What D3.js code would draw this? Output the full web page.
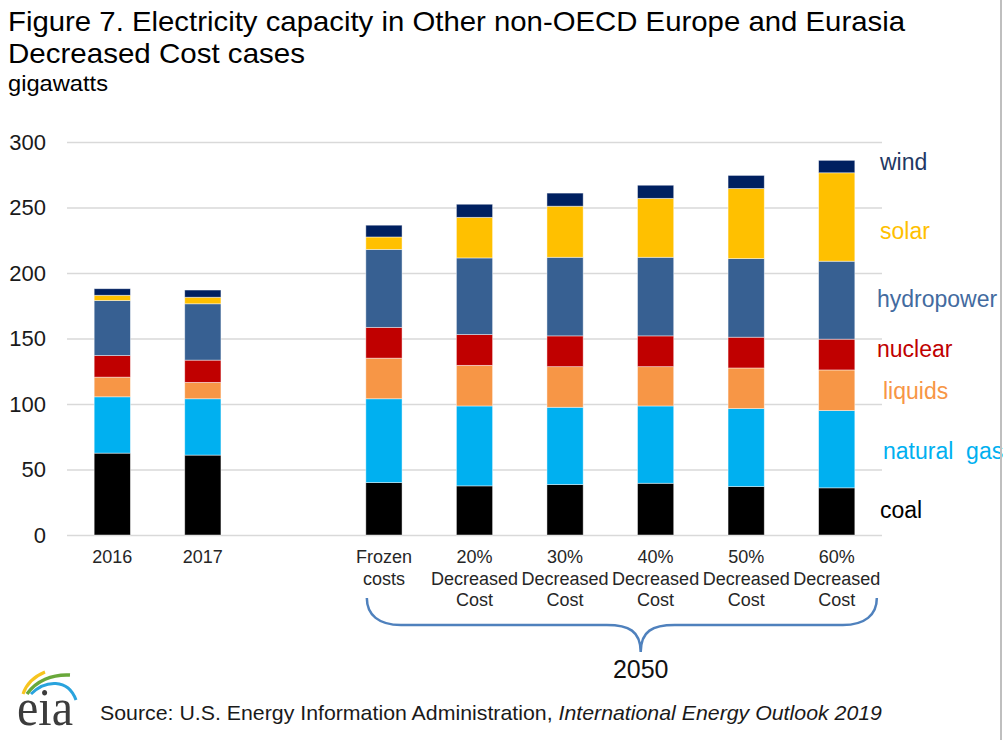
<!DOCTYPE html>
<html>
<head>
<meta charset="utf-8">
<script src="https://cdn.jsdelivr.net/npm/d3@7"></script>
<style>
  body { margin: 0; background: #fff; }
  svg { display: block; font-family: "Liberation Sans", Arial, sans-serif; }
</style>
</head>
<body>
<div id="chart"></div>
<script>
// DATA (gigawatts)
const categories = ["2016", "2017", "gap", "Frozen costs", "20% Decreased Cost",
  "30% Decreased Cost", "40% Decreased Cost", "50% Decreased Cost", "60% Decreased Cost"];
const barCategories = ["2016", "2017", "Frozen costs", "20% Decreased Cost",
  "30% Decreased Cost", "40% Decreased Cost", "50% Decreased Cost", "60% Decreased Cost"];
const tickLabels = [["2016"], ["2017"], [], ["Frozen", "costs"],
  ["20%", "Decreased", "Cost"], ["30%", "Decreased", "Cost"], ["40%", "Decreased", "Cost"],
  ["50%", "Decreased", "Cost"], ["60%", "Decreased", "Cost"]];

const coal       = [62.5, 61, 40, 37.5, 38.5, 39.5, 37, 36];
const naturalGas = [43, 43, 64, 61, 59, 59, 59.5, 59];
const liquids    = [15, 12.5, 31, 31, 31, 30, 31, 31];
const nuclear    = [16.5, 17, 23.5, 23.5, 23.5, 23.5, 23.5, 23.5];
const hydropower = [42, 43, 59.5, 58.5, 60, 60, 60, 59.5];
const solar      = [4, 5, 9.5, 31, 39, 45, 53.5, 67.5];
const wind       = [5, 5.5, 9, 10, 10, 10, 10, 9.5];

const seriesKeys   = ["coal", "natural gas", "liquids", "nuclear", "hydropower", "solar", "wind"];
const seriesColors = ["#000000", "#00b0f0", "#f79646", "#c00000", "#376092", "#ffc000", "#002060"];
// where each legend label sits, in gigawatts on the y scale
const legendAt     = [19, 64, 110, 142, 180, 232, 285];
const yTicks = [0, 50, 100, 150, 200, 250, 300];

/** CONSTANTS */
const width = 1003,
  height = 740,
  margin = { top: 142, bottom: 205, left: 67, right: 121 };

const rows = barCategories.map((c, i) => ({
  cat: c,
  "coal": coal[i],
  "natural gas": naturalGas[i],
  "liquids": liquids[i],
  "nuclear": nuclear[i],
  "hydropower": hydropower[i],
  "solar": solar[i],
  "wind": wind[i]
}));

const svg = d3.select("#chart")
  .append("svg")
  .attr("width", width)
  .attr("height", height);

svg.append("rect").attr("width", width).attr("height", height).attr("fill", "#fff");

// SCALES
const xScale = d3.scaleBand()
  .domain(categories)
  .range([margin.left, width - margin.right])
  .paddingInner(0.6)
  .paddingOuter(0.3);

const yScale = d3.scaleLinear()
  .domain([0, 300])
  .range([height - margin.bottom, margin.top]);

const color = d3.scaleOrdinal().domain(seriesKeys).range(seriesColors);

// Y AXIS with gridlines
const yAxis = d3.axisLeft(yScale)
  .tickValues(yTicks)
  .tickSize(-(width - margin.left - margin.right))
  .tickPadding(21);

svg.append("g")
  .attr("class", "axis y-axis")
  .attr("transform", `translate(${margin.left},0)`)
  .call(yAxis)
  .call(g => g.select(".domain").remove())
  .call(g => g.selectAll(".tick line").attr("stroke", "#d9d9d9").attr("stroke-width", 1.3))
  .call(g => g.selectAll(".tick text")
    .attr("fill", "#1a1a1a")
    .attr("font-size", 22)
    .attr("font-family", "Liberation Sans, Arial, sans-serif"));

// X AXIS (multi-line labels)
const xAxis = d3.axisBottom(xScale).tickSize(0).tickFormat("");
const xg = svg.append("g")
  .attr("class", "axis x-axis")
  .attr("transform", `translate(0,${height - margin.bottom})`)
  .call(xAxis)
  .call(g => g.select(".domain").remove());

xg.selectAll(".tick").each(function(d, i) {
  const t = d3.select(this).append("text")
    .attr("fill", "#262626")
    .attr("font-size", 18)
    .attr("text-anchor", "middle")
    .attr("font-family", "Liberation Sans, Arial, sans-serif");
  tickLabels[i].forEach((line, j) => {
    t.append("tspan").attr("x", 0).attr("y", 28 + j * 21.5).text(line);
  });
});

// STACKED BARS
const stacked = d3.stack().keys(seriesKeys)(rows);

svg.append("g")
  .selectAll("g")
  .data(stacked)
  .join("g")
  .attr("fill", d => color(d.key))
  .selectAll("rect")
  .data(d => d)
  .join("rect")
  .attr("x", d => xScale(d.data.cat))
  .attr("width", xScale.bandwidth())
  .attr("y", d => yScale(d[1]))
  .attr("height", d => yScale(d[0]) - yScale(d[1]))
  .attr("stroke", "#ffffff")
  .attr("stroke-opacity", 0.55)
  .attr("stroke-width", 0.8);

// LEGEND LABELS at the right
svg.append("g")
  .selectAll("text")
  .data(seriesKeys)
  .join("text")
  .attr("x", (d, i) => (i === 2 || i === 1) ? 883 : i === 4 || i === 3 ? 877 : 880)
  .attr("y", (d, i) => yScale(legendAt[i]))
  .attr("dy", "0.35em")
  .attr("font-size", 23)
  .attr("fill", (d, i) => i === 6 ? "#1f3864" : i === 4 ? "#436b9f" : seriesColors[i])
  .attr("xml:space", "preserve")
  .text(d => d === "natural gas" ? "natural  gas" : d);

// BRACE under the 2050 cases
const bStart = xScale("Frozen costs") + 1,
  bEnd = xScale("60% Decreased Cost") + xScale.bandwidth() + 22,
  bMid = bStart + 0.537 * (bEnd - bStart),
  bTop = height - margin.bottom + 63,
  bLow = bTop + 27,
  bTip = bTop + 54;
svg.append("path")
  .attr("d", `M${bStart},${bTop} C${bStart},${bLow - 10} ${bStart + 12},${bLow} ${bStart + 34},${bLow}
    L${bMid - 34},${bLow} C${bMid - 12},${bLow} ${bMid},${bLow + 6} ${bMid},${bTip}
    C${bMid},${bLow + 6} ${bMid + 12},${bLow} ${bMid + 34},${bLow}
    L${bEnd - 34},${bLow} C${bEnd - 12},${bLow} ${bEnd},${bLow - 10} ${bEnd},${bTop}`)
  .attr("fill", "none")
  .attr("stroke", "#4f81bd")
  .attr("stroke-width", 2.5);

svg.append("text")
  .attr("x", bMid)
  .attr("y", 678)
  .attr("text-anchor", "middle")
  .attr("font-size", 25)
  .attr("fill", "#111")
  .text("2050");

// TITLE
svg.append("text")
  .attr("x", 8).attr("y", 31)
  .attr("font-size", 28)
  .attr("fill", "#000")
  .attr("textLength", 897)
  .attr("lengthAdjust", "spacingAndGlyphs")
  .text("Figure 7. Electricity capacity in Other non-OECD Europe and Eurasia");
svg.append("text")
  .attr("x", 8).attr("y", 63)
  .attr("font-size", 28)
  .attr("fill", "#000")
  .attr("textLength", 297)
  .attr("lengthAdjust", "spacingAndGlyphs")
  .text("Decreased Cost cases");
svg.append("text")
  .attr("x", 8).attr("y", 91)
  .attr("font-size", 22)
  .attr("fill", "#000")
  .attr("textLength", 100)
  .attr("lengthAdjust", "spacingAndGlyphs")
  .text("gigawatts");

// SOURCE + eia logo
const src = svg.append("text")
  .attr("x", 100).attr("y", 720)
  .attr("font-size", 21)
  .attr("fill", "#1a1a1a")
  .attr("textLength", 782)
  .attr("lengthAdjust", "spacingAndGlyphs");
src.append("tspan").text("Source: U.S. Energy Information Administration, ");
src.append("tspan").attr("font-style", "italic").text("International Energy Outlook 2019");

const logo = svg.append("g");
logo.append("path")
  .attr("d", "M23,694 C26,685 33,677 45,672")
  .attr("fill", "none").attr("stroke", "#f7c41f").attr("stroke-width", 3);
logo.append("path")
  .attr("d", "M27,694 C36,681 52,674 70,675")
  .attr("fill", "none").attr("stroke", "#69a83a").attr("stroke-width", 3.5);
logo.append("path")
  .attr("d", "M31,694 C45,680 68,678 76,700")
  .attr("fill", "none").attr("stroke", "#29a3dd").attr("stroke-width", 3);
logo.append("text")
  .attr("x", 17).attr("y", 725)
  .attr("font-size", 52)
  .attr("font-family", "Liberation Serif, Times New Roman, serif")
  .attr("fill", "#3c3c3c")
  .attr("textLength", 56)
  .attr("lengthAdjust", "spacingAndGlyphs")
  .text("eia");

// right border
svg.append("line")
  .attr("x1", 1001).attr("x2", 1001)
  .attr("y1", 0).attr("y2", height)
  .attr("stroke", "#bfbfbf").attr("stroke-width", 2);
</script>
</body>
</html>
